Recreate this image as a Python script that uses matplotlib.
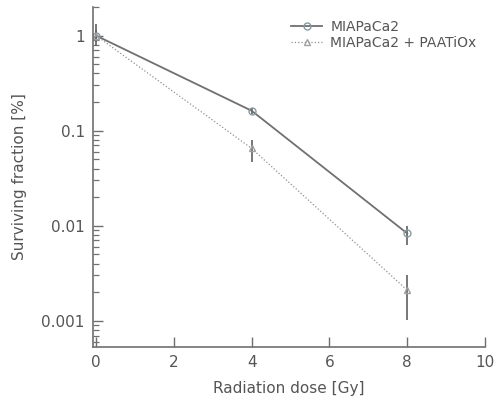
import matplotlib
matplotlib.use("Agg")
import matplotlib.pyplot as plt
import numpy as np

dose = [0, 4, 8]
mia = [1.0, 0.162, 0.0083]
mia_lo = [0.77, 0.15, 0.0062]
mia_hi = [1.34, 0.175, 0.0100]
paa = [1.0, 0.065, 0.0021]
paa_lo = [0.85, 0.047, 0.00103]
paa_hi = [1.15, 0.080, 0.0030]

plt.rcParams['font.family'] = ['DejaVu Sans']
tc = '#555555'
fig = plt.figure(figsize=(4.99, 4.07), dpi=100)
ax = fig.add_axes([0.1864, 0.1474, 0.7856, 0.8354])

mia_err = [np.array(mia) - np.array(mia_lo), np.array(mia_hi) - np.array(mia)]
paa_err = [np.array(paa) - np.array(paa_lo), np.array(paa_hi) - np.array(paa)]

ax.errorbar(dose, mia, yerr=mia_err, fmt='none', ecolor='#606060', elinewidth=1.2, capsize=0)
ax.errorbar(dose, paa, yerr=paa_err, fmt='none', ecolor='#606060', elinewidth=1.2, capsize=0)
ax.plot(dose, mia, color='#707070', lw=1.3, marker='o', ms=5,
        mfc='none', mec='#8a9aa0', label='MIAPaCa2')
ax.plot(dose, paa, color='#909090', lw=0.9, ls=':', marker='^', ms=5,
        mfc='none', mec='#a0a0a0', label='MIAPaCa2 + PAATiOx')

ax.set_yscale('log')
ax.set_xlim(-0.08, 10)
ax.set_ylim(0.00053, 2.0)
ax.set_xticks([0, 2, 4, 6, 8, 10])
ax.set_yticks([1, 0.1, 0.01, 0.001])
ax.set_yticklabels(['1', '0.1', '0.01', '0.001'])
for s in ['top', 'right']:
    ax.spines[s].set_visible(False)
for s in ['left', 'bottom']:
    ax.spines[s].set_color('#707070')
    ax.spines[s].set_linewidth(1.2)
ax.tick_params(axis='both', which='major', direction='in', length=7, width=1.0,
               colors='#707070', labelcolor=tc, labelsize=11, pad=6)
ax.tick_params(axis='y', which='minor', direction='in', length=4, width=0.9, colors='#707070')
ax.set_xlabel('Radiation dose [Gy]', color=tc, fontsize=11, labelpad=8)
ax.set_ylabel('Surviving fraction [%]', color=tc, fontsize=11, labelpad=10)

leg = ax.legend(loc='upper right', frameon=False, fontsize=10, labelcolor=tc,
                bbox_to_anchor=(1.01, 1.0), handlelength=2.2, handletextpad=0.6,
                labelspacing=0.2)

fig.savefig('out.png', dpi=100)
